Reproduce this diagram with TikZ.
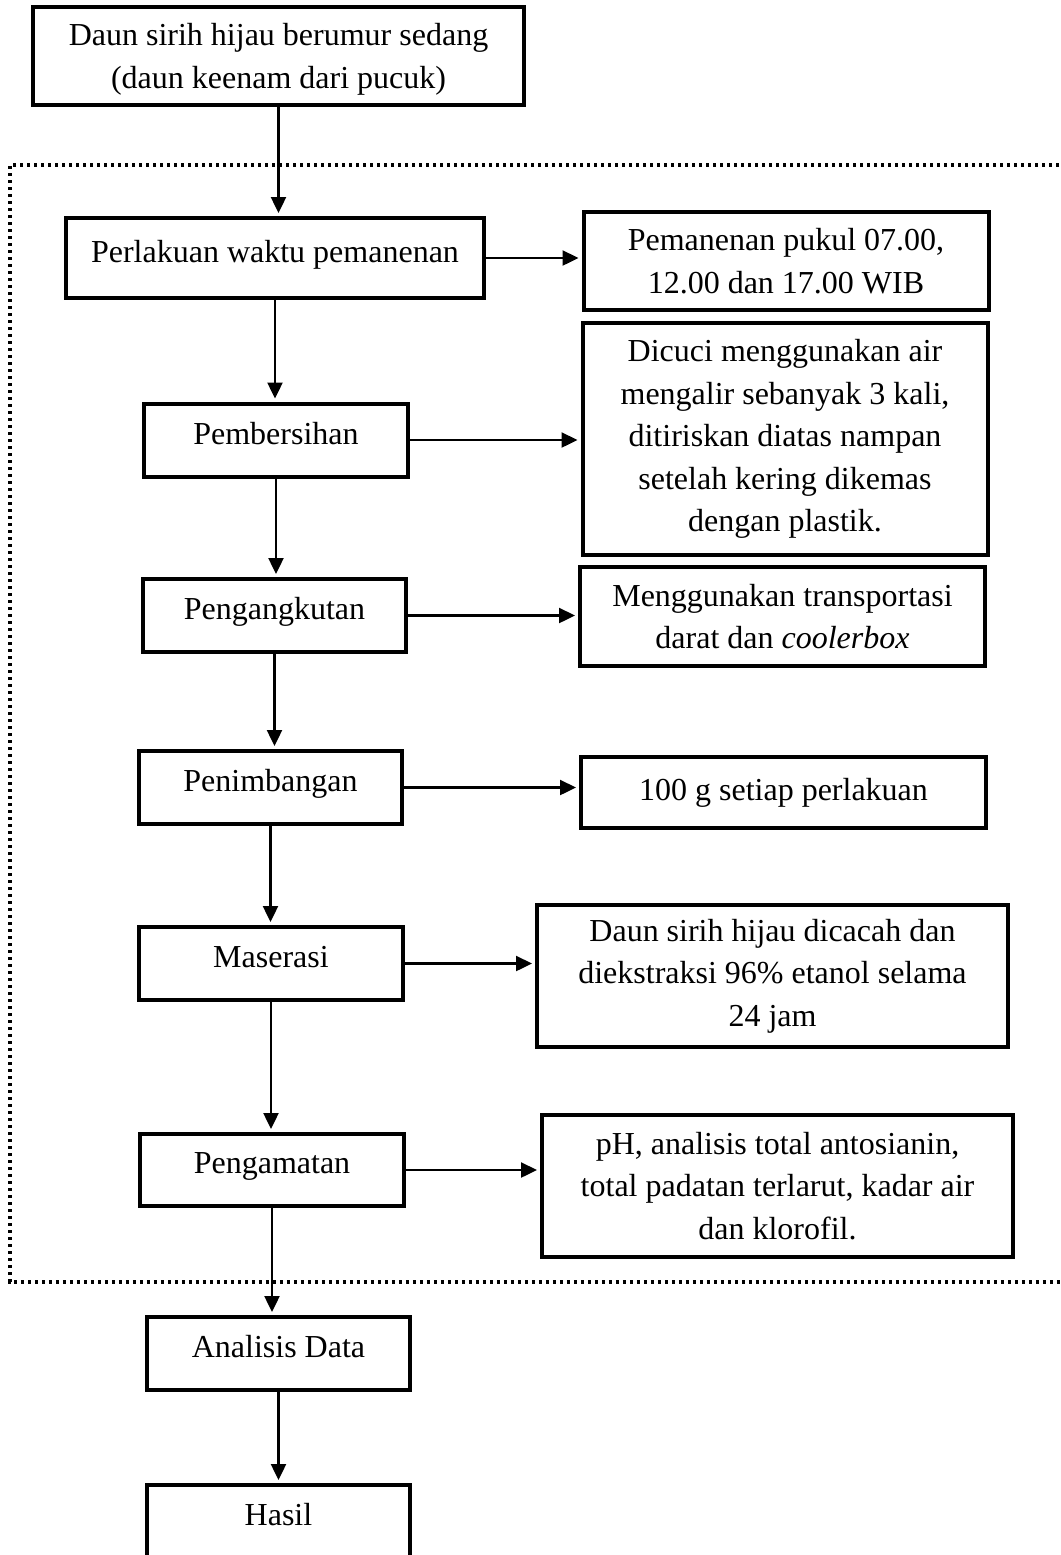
\documentclass[tikz,border=0pt]{standalone}
\usepackage{fontspec}
\setmainfont{Liberation Serif}
\usetikzlibrary{arrows.meta}

\tikzset{every picture/.style={line width=1pt}}
\tikzset{
  box/.style={draw, line width=2pt, align=center, inner sep=0pt, font=\fontsize{16}{21.2}\selectfont},
  single/.style={box, text depth=7pt},
  arr/.style={-{Triangle[length=8pt,width=7.5pt]}, line width=1.2pt, shorten >=1.5pt},
  frame/.style={line width=1.6pt, dash pattern={on 1.6pt off 1.9pt}}
}

\begin{document}
\begin{tikzpicture}[x=0.5pt,y=0.5pt,yscale=-1,xscale=1]
        \useasboundingbox (0,0) rectangle (1061,1555);
        \clip (0,0) rectangle (1061,1555);
        \draw [frame] (1080,165) -- (10,165) -- (10,1282) -- (1080,1282) ;

        \node [box, minimum width=245.5pt, minimum height=49pt, text depth=0pt] (daun) at (278.5,56) {Daun sirih hijau berumur sedang\\(daun keenam dari pucuk)};
        \node [single, minimum width=209pt, minimum height=40pt] (perlakuan) at (275,258) {Perlakuan waktu pemanenan};
        \node [single, minimum width=132pt, minimum height=36.5pt] (bersih) at (276,440) {Pembersihan};
        \node [single, minimum width=131.5pt, minimum height=36.5pt] (angkut) at (274.5,615.5) {Pengangkutan};
        \node [single, minimum width=131.5pt, minimum height=36.5pt] (timbang) at (270.5,787.5) {Penimbangan};
        \node [single, minimum width=132pt, minimum height=36.5pt] (maserasi) at (271,963.5) {Maserasi};
        \node [single, minimum width=132pt, minimum height=36pt] (amat) at (272,1170) {Pengamatan};
        \node [single, minimum width=131.5pt, minimum height=36.5pt] (analisis) at (278.5,1353.5) {Analisis Data};
        \node [single, minimum width=131.5pt, minimum height=36.5pt] (hasil) at (278.5,1521.5) {Hasil};

        \node [box, minimum width=202.5pt, minimum height=49pt] (jam) at (786,261) {Pemanenan pukul 07.00,\\12.00 dan 17.00 WIB};
        \node [box, minimum width=202.5pt, minimum height=116pt] (cuci) at (785,439) {Dicuci menggunakan air\\mengalir sebanyak 3 kali,\\ditiriskan diatas nampan\\setelah kering dikemas\\dengan plastik.};
        \node [box, minimum width=202.5pt, minimum height=49.5pt] (transport) at (782.5,616.5) {Menggunakan transportasi\\darat dan \textit{coolerbox}};
        \node [box, minimum width=202.5pt, minimum height=35.5pt] (berat) at (783.5,792.5) {100 g setiap perlakuan};
        \node [box, minimum width=235.5pt, minimum height=71pt] (ekstrak) at (772.5,976) {Daun sirih hijau dicacah dan\\diekstraksi 96\% etanol selama\\24 jam};
        \node [box, minimum width=235.5pt, minimum height=71pt] (uji) at (777.5,1186) {pH, analisis total antosianin,\\total padatan terlarut, kadar air\\dan klorofil.};

        \foreach \a/\b in {daun/perlakuan, perlakuan/bersih, bersih/angkut, angkut/timbang, timbang/maserasi, maserasi/amat, amat/analisis, analisis/hasil}
          \draw [arr] (\a.south) -- (\a.south |- \b.north) ;
        \foreach \a/\b in {perlakuan/jam, bersih/cuci, angkut/transport, timbang/berat, maserasi/ekstrak, amat/uji}
          \draw [arr] (\a.east) -- (\a.east -| \b.west) ;

    \end{tikzpicture}
\end{document}
